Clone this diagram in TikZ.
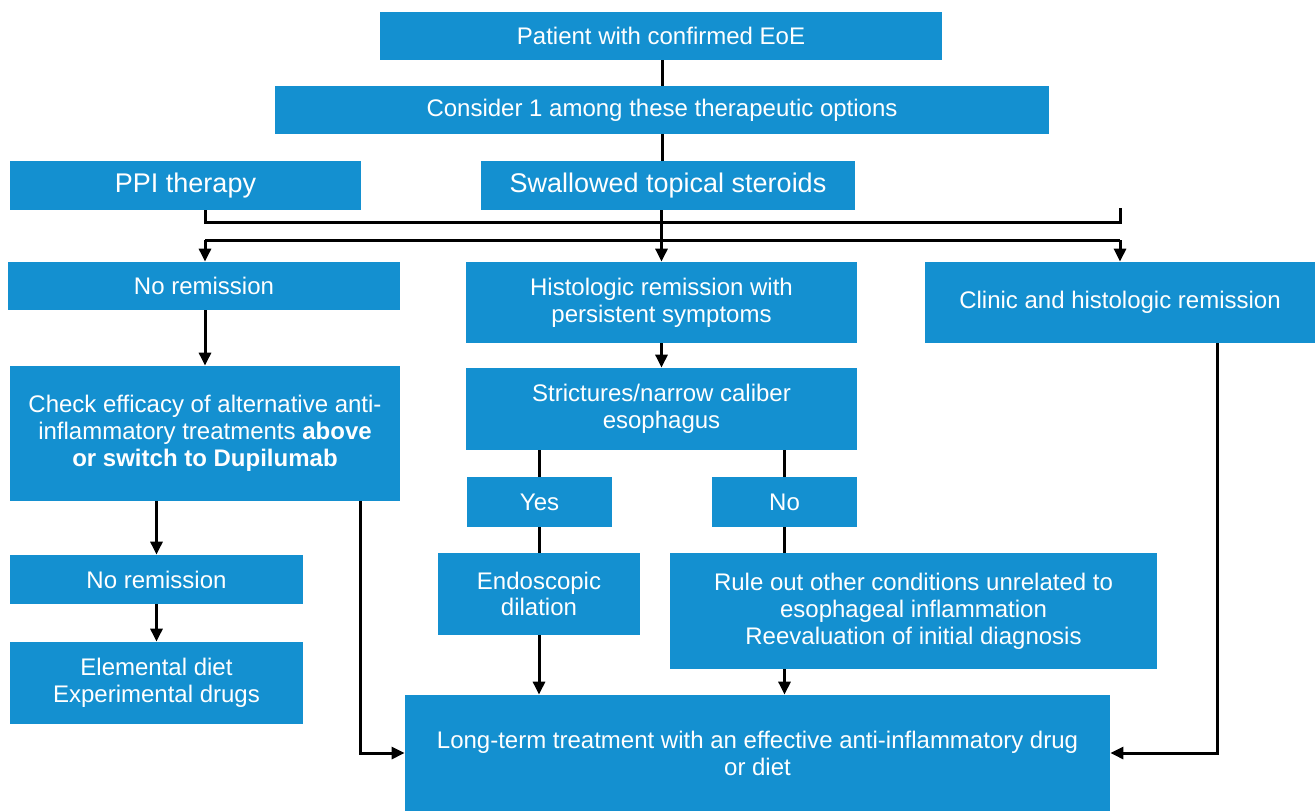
\documentclass[tikz,border=0pt]{standalone}
\usepackage{fontspec}
\setmainfont{Liberation Sans}
\usetikzlibrary{arrows.meta}
\definecolor{boxblue}{RGB}{20,144,208}
\begin{document}
\begin{tikzpicture}[x=0.5pt,y=-0.5pt,
  box/.style={fill=boxblue,text=white,inner sep=0pt,align=center,anchor=center,
    font=\fontsize{12}{13.4}\selectfont},
  bigbox/.style={box,font=\fontsize{13.5}{15}\selectfont},
  conn/.style={line width=1.5pt,black},
  arr/.style={conn,-{Triangle[length=6.5pt,width=6pt]}}]
\useasboundingbox (0,0) rectangle (1315,811);
\node[box,minimum width=281pt,minimum height=24pt] (Pat) at (661,36) {Patient with confirmed EoE};
\node[box,minimum width=387pt,minimum height=24pt] (Cons) at (662,110) {Consider 1 among these therapeutic options};
\node[bigbox,minimum width=175.5pt,minimum height=24.5pt] (PPI) at (185.5,185.5) {PPI therapy};
\node[bigbox,minimum width=187pt,minimum height=24.5pt] (Sw) at (668,185.5) {Swallowed topical steroids};
\node[box,minimum width=196pt,minimum height=24pt] (NR1) at (204,286) {No remission};
\node[box,minimum width=195.5pt,minimum height=40.5pt] (Hist) at (661.5,302.5) {Histologic remission with\\persistent symptoms};
\node[box,minimum width=195pt,minimum height=40.5pt] (Clin) at (1120,302.5) {Clinic and histologic remission};
\node[box,minimum width=195pt,minimum height=67.5pt] (Check) at (205,433.5) {Check efficacy of alternative anti-\\inflammatory treatments \textbf{above}\\\textbf{or switch to Dupilumab}};
\node[box,minimum width=195.5pt,minimum height=41pt] (Str) at (661.5,409) {Strictures/narrow caliber\\esophagus};
\node[box,minimum width=72.5pt,minimum height=25pt] (Yes) at (539.5,502) {Yes};
\node[box,minimum width=72.5pt,minimum height=25pt] (No) at (784.5,502) {No};
\node[box,minimum width=101pt,minimum height=41pt] (Endo) at (539,594) {Endoscopic\\dilation};
\node[box,minimum width=243.5pt,minimum height=58pt] (Rule) at (913.5,611) {Rule out other conditions unrelated to\\esophageal inflammation\\Reevaluation of initial diagnosis};
\node[box,minimum width=146.5pt,minimum height=24.5pt] (NR2) at (156.5,579.5) {No remission};
\node[box,minimum width=146.5pt,minimum height=41pt] (Elem) at (156.5,683) {Elemental diet\\Experimental drugs};
\node[box,minimum width=352.5pt,minimum height=58pt] (Long) at (757.5,753) {Long-term treatment with an effective anti-inflammatory drug\\or diet};
% junction coordinates
\coordinate (a1) at (205,222);
\coordinate (a2) at (1120,222);
\coordinate (a3) at (1120,208);
\coordinate (b1) at (205,240);
\coordinate (b2) at (1120,240);
\coordinate (c1) at (360,0);
\coordinate (d1) at (1217,0);
% connectors
\draw[conn] (Pat.south -| Cons.north) -- (Cons.north);
\draw[conn] (Cons.south) -- (Sw.north -| Cons.south);
\draw[conn] (PPI.south -| a1) |- (a2) -- (a3);
\draw[conn] (b1) -- (b2);
\draw[arr] (b1) -- (NR1.north -| b1);
\draw[arr] (b2) -- (Clin.north -| b2);
\draw[arr] (Sw.south -| Hist.north) -- (Hist.north);
\draw[arr] (NR1.south -| b1) -- (Check.north -| b1);
\draw[arr] (Check.south -| NR2.north) -- (NR2.north);
\draw[arr] (NR2) -- (Elem);
\draw[arr] (Check.south -| c1) |- (Long.west);
\draw[arr] (Clin.south -| d1) |- (Long.east);
\draw[arr] (Hist) -- (Str);
\draw[conn] (Str.south -| Yes.north) -- (Yes.north);
\draw[conn] (Str.south -| No.north) -- (No.north);
\draw[conn] (Yes.south) -- (Endo.north -| Yes.south);
\draw[conn] (No.south) -- (Rule.north -| No.south);
\draw[arr] (Endo.south) -- (Long.north -| Endo.south);
\draw[arr] (Rule.south -| No.south) -- (Long.north -| No.south);
\end{tikzpicture}
\end{document}
